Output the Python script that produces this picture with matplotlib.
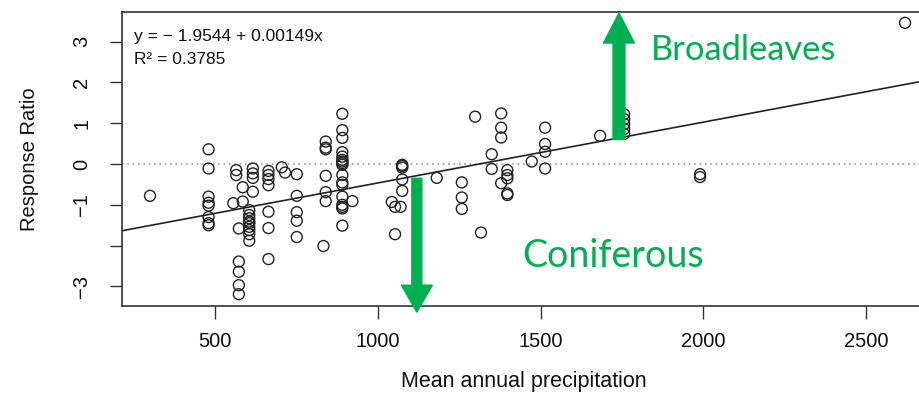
import matplotlib
matplotlib.use("Agg")
from matplotlib import pyplot as plt

plt.rcParams["font.family"] = ["Liberation Sans", "DejaVu Sans"]

# precipitation (x) and response ratio (y)
precip = [300,
          480, 480, 480, 480, 480, 480, 480, 480,
          556, 565, 565,
          573, 573, 573, 573, 573,
          585, 585,
          605, 605, 605, 605, 605, 605, 605, 605, 605,
          616, 616, 616, 616,
          664, 664, 664, 664, 664, 664, 664,
          705, 715,
          751, 751, 751, 751, 751,
          833,
          840, 840, 840, 840, 840, 840,
          891, 891, 891, 891, 891, 891, 891, 891, 891,
          891, 891, 891, 891, 891, 891, 891, 891,
          922, 1043, 1053, 1053, 1070,
          1075, 1075, 1075, 1075, 1075,
          1181,
          1258, 1258, 1258,
          1299, 1317,
          1350, 1350,
          1379, 1379, 1379, 1379,
          1398, 1398, 1398, 1398, 1398,
          1473,
          1514, 1514, 1514, 1514,
          1683,
          1757, 1757, 1757, 1757, 1757,
          1990, 1990,
          2620]
response = [-0.78,
            0.36, -0.11, -0.80, -0.95, -1.02, -1.30, -1.45, -1.50,
            -0.96, -0.15, -0.27,
            -1.58, -2.39, -2.64, -2.97, -3.19,
            -0.57, -0.92,
            -1.13, -1.25, -1.33, -1.41, -1.45, -1.54, -1.62, -1.72, -1.88,
            -0.11, -0.23, -0.34, -0.68,
            -0.17, -0.27, -0.37, -0.52, -1.17, -1.57, -2.33,
            -0.08, -0.21,
            -0.25, -0.78, -1.18, -1.39, -1.79,
            -2.01,
            0.55, 0.40, 0.36, -0.29, -0.69, -0.91,
            1.23, 0.83, 0.64, 0.29, 0.18, 0.10, 0.06, 0.02, -0.02,
            -0.27, -0.45, -0.51, -0.80, -1.00, -1.05, -1.09, -1.51,
            -0.91, -0.93, -1.05, -1.72, -1.05,
            -0.02, -0.05, -0.09, -0.38, -0.66,
            -0.34,
            -0.45, -0.82, -1.10,
            1.16, -1.68,
            0.24, -0.12,
            1.24, 0.89, 0.65, -0.47,
            -0.15, -0.27, -0.35, -0.72, -0.76,
            0.06,
            0.89, 0.49, 0.30, -0.11,
            0.69,
            1.22, 1.10, 0.98, 0.86, 0.74,
            -0.25, -0.32,
            3.46]

intercept = -1.9544
slope = 0.00149
r2 = 0.3785

xticks = [500, 1000, 1500, 2000, 2500]
yticks = [3, 2, 1, 0, -1, -2, -3]
ytick_labels = ["3", "2", "1", "0", "\u22121", "", "\u22123"]

green = "#00B050"
ink = "#222222"

fig = plt.figure(figsize=(9.19, 3.99), dpi=100)
ax = fig.add_axes([122 / 919, 93 / 399, 799 / 919, 294 / 399])

ax.scatter(precip, response, s=62, facecolors="none", edgecolors=ink, linewidths=1.0, zorder=3)
ax.axline((0, intercept), slope=slope, color=ink, lw=1.2, zorder=2)
ax.axhline(0, color="#8a8a8a", lw=1.1, ls=(0, (1, 2.5)), zorder=1)

ax.set_xlim(214, 2669)
ax.set_ylim(-3.48, 3.725)
ax.set_xticks(xticks)
ax.set_yticks(yticks)
ax.set_yticklabels(ytick_labels, rotation=90, va="center")
ax.tick_params(axis="both", direction="out", length=9, width=1.0, colors="#333333",
               labelcolor="#111111", labelsize=14.5)
ax.tick_params(axis="x", pad=10)
ax.tick_params(axis="y", pad=13)
for s in ax.spines.values():
    s.set_color("#333333")
    s.set_linewidth(1.2)

xl = ax.set_xlabel("Mean annual precipitation", fontsize=15.5, color="#111111")
xl.set_va("baseline")
ax.xaxis.set_label_coords(0.503, -0.2755)
ax.set_ylabel("Response Ratio", fontsize=14.5, color="#111111", labelpad=24)

ax.text(0.0145, 0.915, "y = \u2212 1.9544 + 0.00149x", transform=ax.transAxes,
        fontsize=12.5, color="#111111", va="center", ha="left")
ax.text(0.0145, 0.84, "R\u00b2 = %.4f" % r2, transform=ax.transAxes,
        fontsize=12.5, color="#111111", va="center", ha="left")

# green arrows and labels
ax.annotate("", xy=(1741, 3.70), xytext=(1741, 0.60),
            arrowprops=dict(arrowstyle="simple,head_length=2.16,head_width=2.23,tail_width=0.86",
                            mutation_scale=10, color=green, shrinkA=0, shrinkB=0),
            annotation_clip=False, zorder=5)
ax.annotate("", xy=(1120, -3.63), xytext=(1120, -0.35),
            arrowprops=dict(arrowstyle="simple,head_length=1.94,head_width=2.23,tail_width=0.72",
                            mutation_scale=10, color=green, shrinkA=0, shrinkB=0),
            annotation_clip=False, zorder=5)
ax.text(1840, 2.55, "Broadleaves", color=green, fontsize=24.8, family="Lato",
        ha="left", va="baseline", zorder=6)
ax.text(1444, -2.52, "Coniferous", color=green, fontsize=27, family="Lato",
        ha="left", va="baseline", zorder=6)

fig.savefig("out.png", dpi=100)
